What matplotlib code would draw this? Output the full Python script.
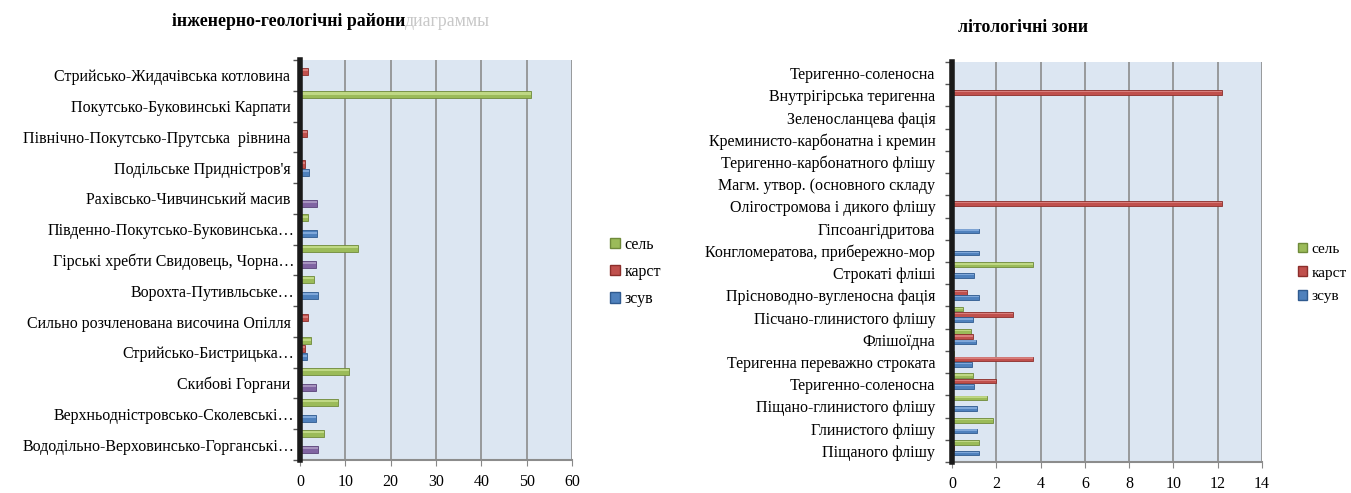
import matplotlib
matplotlib.use("Agg")
import matplotlib.pyplot as plt
import numpy as np
from matplotlib.patches import Patch

plt.rcParams['font.family'] = ['Liberation Serif', 'DejaVu Serif']

# ---------------- data: left chart (top to bottom) ----------------
cats_l = ["Стрийсько-Жидачівська котловина ", "Покутсько-Буковинські Карпати ",
          "Північно-Покутсько-Прутська  рівнина ", "Подільське Придністров'я ",
          "Рахівсько-Чивчинський масив ", "Південно-Покутсько-Буковинська…",
          "Гірські хребти Свидовець, Чорна…", "Ворохта-Путивльське…",
          "Сильно розчленована височина Опілля ", "Стрийсько-Бистрицька…",
          "Скибові Горгани ", "Верхньодністровсько-Сколевські…",
          "Вододільно-Верховинсько-Горганські…"]
sel_l = [0, 51, 0, 0, 0, 1.7, 12.8, 3.1, 0, 2.4, 10.8, 8.3, 5.2]
karst_l = [1.7, 0.3, 1.6, 1.2, 0.3, 0.3, 0.3, 0.3, 1.7, 1.2, 0.3, 0.3, 0.3]
zsuv_l = [0.3, 0.3, 0.3, 1.9, 3.7, 3.8, 3.6, 4.0, 0.2, 1.6, 3.5, 3.6, 3.9]
purple_l = ["Рахівсько-Чивчинський масив ", "Гірські хребти Свидовець, Чорна…",
            "Скибові Горгани ", "Вододільно-Верховинсько-Горганські…"]
xticks_l = [0, 10, 20, 30, 40, 50, 60]

# ---------------- data: right chart (top to bottom) ----------------
cats_r = ["Теригенно-соленосна", "Внутрігірська теригенна", "Зеленосланцева фація",
          "Креминисто-карбонатна і кремин", "Теригенно-карбонатного флішу",
          "Магм. утвор. (основного складу", "Олігостромова і дикого флішу",
          "Гіпсоангідритова", "Конгломератова, прибережно-мор", "Строкаті фліші",
          "Прісноводно-вугленосна фація", "Пісчано-глинистого флішу", "Флішоїдна",
          "Теригенна переважно строката", "Теригенно-соленосна",
          "Піщано-глинистого флішу", "Глинистого флішу", "Піщаного флішу"]
sel_r = [0, 0, 0, 0, 0, 0, 0, 0, 0.05, 3.65, 0.05, 0.5, 0.85, 0.1, 0.95, 1.6, 1.85, 1.2]
karst_r = [0, 12.2, 0, 0, 0, 0, 12.2, 0, 0.05, 0.1, 0.7, 2.75, 0.95, 3.65, 2.0, 0.05, 0.05, 0.1]
zsuv_r = [0, 0, 0, 0, 0, 0, 0, 1.2, 1.2, 1.0, 1.2, 0.95, 1.1, 0.9, 1.0, 1.15, 1.15, 1.2]
xticks_r = [0, 2, 4, 6, 8, 10, 12, 14]

series_names = ["сель", "карст", "зсув"]

GREEN, GREEN_D, GREEN_L = "#9bbb59", "#6f8a3a", "#c9e08f"
RED, RED_D, RED_L = "#c0504d", "#8c2e2b", "#e08a88"
BLUE, BLUE_D, BLUE_L = "#4f81bd", "#2f5a8f", "#8db3e2"
PURP, PURP_D, PURP_L = "#8064a2", "#5a4378", "#b1a0c7"
WALL = "#dce6f2"

fig = plt.figure(figsize=(13.51, 4.93), dpi=100)


def cyl(ax, y, vals, h, colors, darks, lights):
    ax.barh(y, vals, height=h, color=colors, edgecolor=darks, linewidth=0.6, zorder=3)
    ax.barh(np.asarray(y) - h * 0.18, vals, height=h * 0.3, color=lights,
            linewidth=0, zorder=4, alpha=0.8)


def panel(ax, cats, sel, karst, zsuv, xticks, offs, h, zcol, zdark, zlight, pad):
    n = len(cats)
    y = np.arange(n)
    ax.set_facecolor(WALL)
    cyl(ax, y + offs[0], sel, h, GREEN, GREEN_D, GREEN_L)
    cyl(ax, y + offs[1], karst, h, RED, RED_D, RED_L)
    cyl(ax, y + offs[2], zsuv, h, zcol, zdark, zlight)
    ax.set_ylim(n - 0.5, -0.5)
    ax.set_xlim(xticks[0], xticks[-1])
    ax.set_xticks(xticks)
    ax.set_yticks(y)
    ax.set_yticklabels(cats, fontsize=11.5)
    ax.set_yticks(np.arange(n + 1) - 0.5, minor=True)
    ax.tick_params(axis='y', which='major', length=0, pad=pad)
    ax.tick_params(axis='y', which='minor', length=5, width=1, color='#555555', direction='out')
    ax.tick_params(axis='x', length=4, color='#888888', labelsize=11.5, pad=6)
    ax.grid(axis='x', color='#8c8c8c', linewidth=1.2, zorder=1)
    ax.set_axisbelow(True)
    for s in ['top', 'right']:
        ax.spines[s].set_visible(False)
    ax.spines['left'].set_color('#1a1a1a')
    ax.spines['left'].set_linewidth(4)
    ax.spines['left'].set_zorder(5)
    ax.spines['bottom'].set_color('#8c8c8c')
    ax.spines['bottom'].set_linewidth(1.5)


# left panel
axl = fig.add_axes([300 / 1351, 1 - 460 / 493, 272 / 1351, 400 / 493])
zc = [PURP if c in purple_l else BLUE for c in cats_l]
zd = [PURP_D if c in purple_l else BLUE_D for c in cats_l]
zl = [PURP_L if c in purple_l else BLUE_L for c in cats_l]
panel(axl, cats_l, sel_l, karst_l, zsuv_l, xticks_l, (-0.37, -0.12, 0.15), 0.23,
      zc, zd, zl, 4)

# right panel
axr = fig.add_axes([952 / 1351, 1 - 462 / 493, 310 / 1351, 400 / 493])
panel(axr, cats_r, sel_r, karst_r, zsuv_r, xticks_r, (-0.38, -0.14, 0.1), 0.21,
      BLUE, BLUE_D, BLUE_L, 12)

# titles
fig.text(405 / 1351, 1 - 22 / 493, "інженерно-геологічні райони", ha='right', va='center',
         fontsize=12.8, fontweight='bold')
fig.text(405 / 1351, 1 - 22 / 493, "диаграммы", ha='left', va='center',
         fontsize=12.8, color='#c8c8c8')
fig.text(1023 / 1351, 1 - 27 / 493, "літологічні зони", ha='center', va='center',
         fontsize=12.8, fontweight='bold')

# legends
def leg(x, y, fs, sp):
    handles = [Patch(facecolor=GREEN, edgecolor=GREEN_D),
               Patch(facecolor=RED, edgecolor=RED_D),
               Patch(facecolor=BLUE, edgecolor=BLUE_D)]
    fig.legend(handles, series_names, loc='center left', bbox_to_anchor=(x, y),
               frameon=False, fontsize=fs, handlelength=0.6, handleheight=0.6,
               handletextpad=0.3, labelspacing=sp, borderaxespad=0, borderpad=0)

leg(610 / 1351, 1 - 272 / 493, 11.5, 0.7)
leg(1298 / 1351, 1 - 273 / 493, 11, 0.68)

fig.savefig("out.png", dpi=100)
